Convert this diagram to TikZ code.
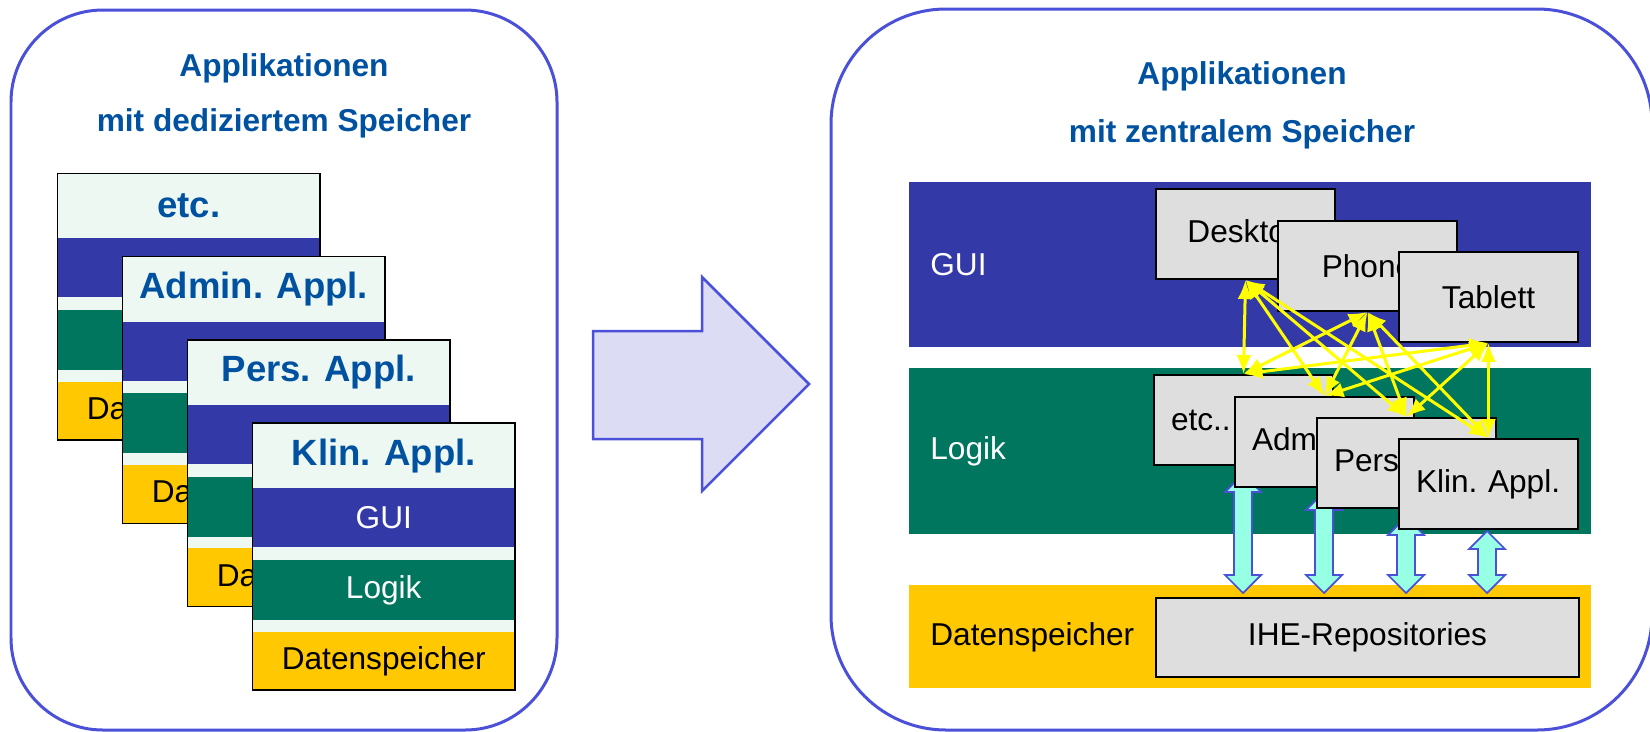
\documentclass[tikz,border=0pt]{standalone}
\usepackage{fontspec}
\setmainfont{Liberation Sans}
\usetikzlibrary{positioning, calc, arrows.meta}
\definecolor{frameblue}{RGB}{74,80,216}
\definecolor{titleblue}{RGB}{0,82,160}
\definecolor{guiblue}{RGB}{51,58,168}
\definecolor{logikgreen}{RGB}{0,118,94}
\definecolor{storeyellow}{RGB}{255,200,0}
\definecolor{headmint}{RGB}{238,248,242}
\definecolor{boxgrey}{RGB}{222,222,222}
\definecolor{arrowlav}{RGB}{220,220,245}
\definecolor{arrowaqua}{RGB}{150,255,228}
\definecolor{linkyellow}{RGB}{255,255,0}

\begin{document}
\begin{tikzpicture}[
    x = 0.02cm, y = -0.02cm,
    every node/.style = {inner sep = 0},
    frame/.style = {draw = frameblue, line width = 0.06cm},
    title/.style = {text = titleblue, font = \fontsize{18}{22}\selectfont\bfseries},
    bandfont/.style = {font = \fontsize{18}{22}\selectfont}
  ]
  \tikzstyle {cardbox} = [anchor = north west, minimum width = 5.23cm, minimum height = 5.32cm, fill = headmint]
  \tikzstyle {cardline} = [draw = black, line width = 0.03cm]
  \tikzstyle {headband} = [minimum width = 5.23cm, minimum height = 1.28cm, text = titleblue, font = \fontsize{20.8}{25}\selectfont\bfseries]
  \tikzstyle {guiband} = [bandfont, minimum width = 5.23cm, minimum height = 1.18cm, fill = guiblue, text = white]
  \tikzstyle {logband} = [bandfont, minimum width = 5.23cm, minimum height = 1.2cm, fill = logikgreen, text = white]
  \tikzstyle {storband} = [bandfont, minimum width = 5.23cm, minimum height = 1.18cm, fill = storeyellow]
  \tikzstyle {panelband} = [bandfont, anchor = north west, text width = 12.8cm, inner xsep = 0.42cm, align = left]
  \tikzstyle {appbox} = [bandfont, anchor = north west, draw = black, line width = 0.04cm, fill = boxgrey, minimum width = 3.58cm, minimum height = 1.8cm]
  \tikzstyle {logbox} = [appbox, text width = 2.9cm, inner xsep = 0.34cm, align = left]
  \tikzstyle {bigarrow} = [fill = arrowlav, draw = frameblue, line width = 0.05cm]
  \tikzstyle {linkarrow} = [fill = arrowaqua, draw = frameblue, line width = 0.035cm]
  \tikzstyle {yarrow} = [draw = linkyellow, line width = 0.06cm, {Latex[length=0.38cm, width=0.3cm]}-{Latex[length=0.38cm, width=0.3cm]}]

  \useasboundingbox (0,0) rectangle (1650,731);
  \clip (0,0) rectangle (1650,731);

  % frames and titles
  \draw [frame, rounded corners = 1.84cm] (11,10) rectangle (557,730);
  \draw [frame, rounded corners = 2.3cm] (831,9) rectangle (1652,730);
  \node [title] (ltitle) at (284,68) {Applikationen};
  \node [title] (lsub) at (284,123) {mit dediziertem Speicher};
  \node [title] (rtitle) at (1242,76) {Applikationen};
  \node [title] (rsub) at (1242,134) {mit zentralem Speicher};

  % left: stacked application cards
  \foreach \i/\t in {0/etc., 1/Admin. Appl., 2/Pers. Appl., 3/Klin. Appl.}
    {
      \node [cardbox] (card\i) at (57.7+65*\i, 173.3+83.3*\i) {};
      \node [headband, below = 0pt of card\i.north] (head\i) {\t};
      \node [guiband, below = 0pt of head\i] (gui\i) {GUI};
      \node [logband, below = 0.24cm of gui\i] (log\i) {Logik};
      \node [storband, below = 0.22cm of log\i] (stor\i) {Datenspeicher};
      \draw [cardline] (card\i.north west) rectangle (card\i.south east);
    }

  % transition arrow
  \draw [bigarrow] (593,331) -- (702,331) -- (702,277) -- (809,384)
    -- (702,491) -- (702,439) -- (593,439) -- cycle;

  % right: layers
  \node [panelband, fill = guiblue, text = white, minimum height = 3.3cm] (guiband) at (909,182) {GUI};
  \node [panelband, fill = logikgreen, text = white, minimum height = 3.32cm] (logband) at (909,368) {Logik};
  \node [panelband, fill = storeyellow, minimum height = 2.06cm] (storband) at (909,585) {Datenspeicher};
  \node [appbox, minimum width = 8.46cm, minimum height = 1.58cm] (repo) at (1155,597) {IHE-Repositories};

  % links to the repository
  \coordinate (lnk1) at (1243,474);
  \coordinate (lnk2) at (1324,492);
  \coordinate (lnk3) at (1406,517);
  \coordinate (lnk4) at (1487,531);
  \foreach \c in {lnk1, lnk2, lnk3, lnk4}
    {
      \draw [linkarrow] let \p1 = (\c), \p2 = ($(\c |- repo.north)+(0,-4)$) in
        (\x1,\y1) -- (\x1+0.36cm,\y1-0.36cm) -- (\x1+0.18cm,\y1-0.36cm)
        -- (\x1+0.18cm,\y2+0.36cm) -- (\x1+0.36cm,\y2+0.36cm) -- (\x1,\y2)
        -- (\x1-0.36cm,\y2+0.36cm) -- (\x1-0.18cm,\y2+0.36cm)
        -- (\x1-0.18cm,\y1-0.36cm) -- (\x1-0.36cm,\y1-0.36cm) -- cycle;
    }

  % logic boxes
  \node [logbox] (etc) at (1153,374) {etc..};
  \node [logbox] (adm) at (1234,396) {Admin.~Appl.};
  \node [logbox] (pers) at (1316,417) {Pers.~Appl.};
  \node [logbox] (klin) at (1398,438) {Klin.~Appl.};

  % gui boxes
  \node [appbox] (desk) at (1155,188) {Desktop};
  \node [appbox] (phone) at (1277,220) {Phone};
  \node [appbox] (tab) at (1398,251) {Tablett};

  % every gui talks to every logic
  \foreach \g in {desk, phone, tab}
    \foreach \l in {etc, adm, pers, klin}
      { \draw [yarrow] (\g.south) -- (\l.north); }
\end{tikzpicture}
\end{document}
